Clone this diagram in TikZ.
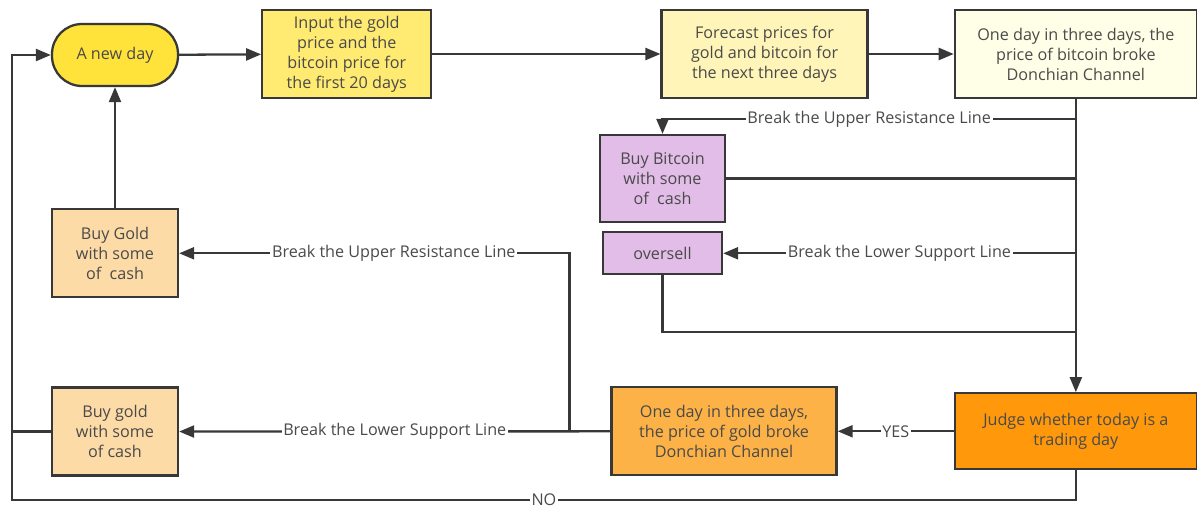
\documentclass[tikz,border=0pt]{standalone}
\usepackage{fontspec}
\setmainfont{Open Sans}
\usepackage{tikz}
\usetikzlibrary{calc, positioning, arrows.meta}
\usepackage{xcolor}
\definecolor{linegray}{HTML}{383838}
\definecolor{textgray}{HTML}{4A4A4A}
\definecolor{daycol}{HTML}{FFE23A}
\definecolor{inputcol}{HTML}{FFEA72}
\definecolor{forecastcol}{HTML}{FFF5B8}
\definecolor{btccol}{HTML}{FFFFE8}
\definecolor{buybtccol}{HTML}{E2BDE8}
\definecolor{buygoldcol}{HTML}{FDDBA6}
\definecolor{goldcol}{HTML}{FDB247}
\definecolor{judgecol}{HTML}{FF980A}
\tikzstyle{startstop} = [
rectangle,
rounded corners=0.6cm,
minimum width=2.52cm,
minimum height=1.24cm,
draw=linegray,
line width=1.3pt,
fill=daycol,
text=textgray
]
\tikzstyle{process} = [
rectangle,
minimum width=2.52cm,
minimum height=1.76cm,
draw=linegray,
line width=1.3pt,
align=center,
text=textgray
]
\tikzstyle{lbl} = [fill=white, inner sep=1pt, text=textgray]
\tikzstyle{arrow}=[-{Triangle[length=0.3cm,width=0.24cm]}]

\begin{document}
\begin{tikzpicture}[font=\fontsize{9.2}{11.4}\selectfont,
    line width=1.3pt, draw=linegray, color=linegray]
        \useasboundingbox (0,0) rectangle (23.94,-10.28);

        \node (newday) [startstop] at (2.30,-1.10) {A new day};

        \node (input) [process, fill=inputcol, minimum width=3.38cm,
            right=1.64cm of newday, yshift=0.02cm]
        {Input the gold\\price and the\\bitcoin price for\\the first 20 days};

        \node (forecast) [process, fill=forecastcol, minimum width=4.12cm,
            right=4.56cm of input]
        {Forecast prices for\\gold and bitcoin for\\the next three days};

        \node (btcbroke) [process, fill=btccol, minimum width=4.84cm,
            right=1.7cm of forecast]
        {One day in three days, the\\price of bitcoin broke\\Donchian Channel};

        \node (judge) [process, fill=judgecol, minimum width=4.84cm,
            minimum height=1.52cm, below=5.86cm of btcbroke]
        {Judge whether today is a\\trading day};

        \node (goldbroke) [process, fill=goldcol, minimum width=4.5cm,
            left=2.32cm of judge]
        {One day in three days,\\the price of gold broke\\Donchian Channel};

        \node (buybtc) [process, fill=buybtccol, minimum width=2.5cm,
            minimum height=1.74cm] at (13.25,-3.57)
        {Buy Bitcoin\\with some\\of~ cash};

        \node (oversell) [process, fill=buybtccol, minimum width=2.38cm,
            minimum height=0.84cm, below=0.16cm of buybtc]
        {oversell};

        \node (buygold) [process, fill=buygoldcol, below=2.42cm of newday]
        {Buy Gold\\with some\\of~ cash};

        \node (buygoldb) [process, fill=buygoldcol, below=1.76cm of buygold]
        {Buy gold\\with some\\of cash};

        \coordinate (loop) at (0.24,-10.0);

        \draw [arrow] (newday)--(input);

        \draw [arrow] (input)--(forecast);

        \draw [arrow] (forecast)--(btcbroke);

        \draw [arrow] (btcbroke)--(judge);

        \draw [arrow] (btcbroke.south) ++(0,-0.4) -|
            node[pos=0.25, lbl]{Break the Upper Resistance Line} (buybtc.north);

        \draw (buybtc.east) -- (buybtc.east -| judge.north);

        \draw [arrow] (oversell.east -| judge.north) --
            node[lbl]{Break the Lower Support Line} (oversell.east);

        \draw (oversell.south) |- ($(judge.north)+(0,1.2)$);

        \draw [arrow] (judge)--node[lbl]{YES}(goldbroke);

        \draw [arrow] (goldbroke)--node[lbl]{Break the Lower Support Line}(buygoldb);

        \draw [arrow] (goldbroke.west) ++(-0.82,0) |-
            node[pos=0.725, lbl]{Break the Upper Resistance Line} (buygold.east);

        \draw [arrow] (buygold)--(newday);

        \draw (buygoldb.west) -- (buygoldb.west -| loop);

        \draw [arrow] (judge.south) |- node[pos=0.75, lbl]{NO} (loop)
            |- (newday.west);

        \end{tikzpicture}
\end{document}
